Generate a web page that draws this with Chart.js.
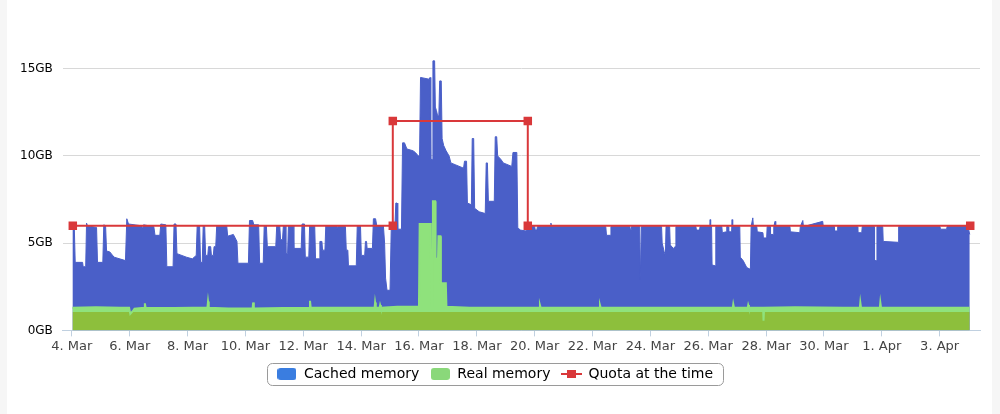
<!DOCTYPE html>
<html>
<head>
<meta charset="utf-8">
<title>Memory usage</title>
<script src="https://cdn.jsdelivr.net/npm/chart.js@4.4.1/dist/chart.umd.min.js"></script>
<style>
  html, body { margin: 0; padding: 0; background: #fff; }
  #wrap { width: 1000px; height: 414px; position: relative; }
</style>
</head>
<body>
<div id="wrap"><canvas id="memoryChart"></canvas></div>
<script>
// x = hours since 4. Mar 00:00, y = GB
const cachedMemory = [
  [0.5, 6.0], [2.0, 6.0], [2.8, 3.9], [8.9, 3.9], [9.4, 3.65], [11.5, 3.65], [12.2, 6.15], [13.0, 6.0],
  [20.5, 5.9], [21.3, 3.9], [25.7, 3.9], [26.5, 6.05], [28.0, 6.0], [28.8, 4.55], [31.5, 4.5], [35.0, 4.2],
  [44.5, 4.0], [45.6, 6.4], [47.0, 6.1], [57.5, 6.0], [58.0, 5.85], [59.0, 5.9], [59.5, 6.05], [68.0, 5.95],
  [69.0, 5.45], [73.0, 5.45], [73.8, 6.1], [78.0, 6.05], [78.8, 3.65], [84.0, 3.65], [84.8, 6.1], [86.4, 6.1],
  [87.2, 4.4], [95.0, 4.2], [100.0, 4.1], [103.2, 4.3], [104.0, 6.0], [106.0, 6.0], [106.8, 3.9], [108.2, 3.9],
  [109.0, 6.0], [110.2, 6.0], [111.0, 4.3], [112.8, 4.3], [113.4, 4.8], [115.2, 4.8], [115.8, 4.3], [117.4, 4.3],
  [118.0, 4.8], [119.4, 4.8], [120.2, 6.0], [128.5, 6.0], [129.3, 5.4], [134.0, 5.5], [137.0, 5.1], [137.8, 3.85],
  [146.5, 3.85], [147.4, 6.3], [150.0, 6.3], [151.0, 6.05], [155.0, 6.05], [155.8, 3.85], [158.8, 3.85], [159.6, 6.0],
  [161.4, 6.0], [162.2, 4.8], [169.2, 4.8], [170.0, 6.0], [172.5, 6.0], [173.2, 5.2], [174.8, 5.2], [175.5, 6.0],
  [177.0, 6.0], [177.6, 4.4], [179.0, 4.4], [179.7, 6.0], [183.5, 6.0], [184.2, 4.7], [190.3, 4.7], [191.0, 6.1],
  [193.0, 6.1], [193.7, 4.2], [196.6, 4.2], [197.3, 6.0], [201.5, 6.0], [202.2, 4.1], [205.2, 4.1], [205.8, 5.1],
  [207.5, 5.1], [208.0, 4.6], [210.0, 4.6], [210.7, 6.0], [219.5, 6.0], [220.0, 5.8], [221.0, 5.95], [227.0, 5.95],
  [227.7, 4.6], [229.0, 4.6], [229.5, 3.7], [236.0, 3.7], [236.8, 6.0], [239.5, 6.0], [240.2, 4.3], [243.0, 4.3],
  [243.6, 5.1], [244.5, 5.1], [245.0, 4.7], [249.4, 4.7], [250.2, 6.4], [252.0, 6.4], [253.0, 6.0], [258.5, 6.0],
  [259.5, 5.0], [260.3, 3.0], [261.5, 2.3], [264.0, 2.3], [265.0, 5.8], [268.0, 5.8], [268.8, 7.3], [269.8, 7.3],
  [270.4, 5.8], [273.5, 5.8], [274.4, 10.75], [276.0, 10.75], [278.0, 10.4], [283.0, 10.3], [285.0, 10.2], [287.5, 10.0],
  [288.5, 10.0], [289.3, 14.5], [296.5, 14.4], [297.2, 14.5], [297.8, 9.8], [299.0, 9.8], [299.6, 15.45], [301.0, 15.45],
  [301.6, 12.8], [302.5, 12.6], [303.5, 12.3], [304.5, 12.3], [305.2, 14.3], [306.5, 14.3], [307.2, 11.0], [308.5, 10.6],
  [310.5, 10.3], [313.0, 10.0], [314.5, 9.6], [318.0, 9.5], [325.0, 9.3], [325.8, 9.7], [327.5, 9.7], [328.2, 7.3],
  [331.5, 7.2], [332.2, 11.0], [333.4, 11.0], [334.2, 7.0], [338.0, 6.8], [343.0, 6.7], [343.8, 9.6], [344.8, 9.6],
  [345.6, 7.4], [350.5, 7.4], [351.3, 11.1], [352.5, 11.1], [353.3, 10.0], [356.0, 9.8], [358.0, 9.6], [365.0, 9.4],
  [366.0, 10.2], [369.2, 10.2], [370.0, 5.9], [372.0, 5.75], [377.0, 5.7], [378.5, 5.95], [384.0, 5.95], [384.5, 5.75],
  [385.8, 5.75], [386.3, 5.95], [397.0, 6.0], [397.5, 6.15], [398.0, 5.95], [443.0, 5.95], [443.6, 5.45], [446.8, 5.45],
  [447.3, 5.95], [463.0, 5.95], [463.3, 5.8], [464.0, 5.8], [464.3, 5.95], [471.2, 5.95], [471.6, 2.9], [472.2, 2.9],
  [472.6, 5.95], [489.3, 5.95], [489.8, 5.0], [491.5, 4.5], [492.5, 4.3], [493.0, 5.95], [496.0, 5.95], [496.5, 4.9],
  [499.0, 4.7], [500.5, 4.8], [501.2, 5.95], [517.8, 5.95], [518.2, 5.75], [520.8, 5.75], [521.2, 5.95], [529.3, 5.95],
  [529.6, 6.35], [530.0, 5.95], [530.8, 5.95], [531.2, 3.75], [533.8, 3.7], [534.3, 5.95], [539.3, 5.95], [539.7, 5.6],
  [543.0, 5.65], [543.4, 5.95], [544.5, 5.95], [545.0, 5.65], [547.4, 5.65], [547.8, 6.35], [548.3, 5.95], [554.2, 5.95],
  [554.6, 4.2], [557.0, 4.0], [560.0, 3.6], [563.0, 3.5], [563.6, 5.95], [565.0, 6.45], [565.5, 5.95], [568.3, 5.95],
  [568.7, 5.65], [573.4, 5.6], [573.8, 5.3], [576.5, 5.3], [576.9, 5.95], [579.3, 5.95], [579.7, 5.5], [582.0, 5.5],
  [582.4, 5.95], [583.5, 6.25], [584.0, 5.95], [595.8, 5.95], [596.2, 5.65], [604.0, 5.6], [604.4, 5.95], [606.5, 6.3],
  [607.0, 5.95], [623.0, 6.25], [623.5, 5.95], [632.4, 5.95], [632.8, 5.7], [635.0, 5.7], [635.4, 5.95], [651.7, 5.95],
  [652.1, 5.6], [655.4, 5.6], [655.8, 5.95], [665.6, 5.95], [666.0, 4.0], [667.6, 4.0], [668.0, 5.95], [672.8, 5.95],
  [673.2, 5.1], [685.6, 5.05], [686.0, 5.95], [720.3, 5.95], [720.7, 5.8], [725.8, 5.8], [726.2, 5.95], [743.5, 5.95],
  [745.0, 5.5]
];

const realMemory = [
  [0.5, 1.3], [20.0, 1.32], [40.0, 1.3], [47.5, 1.3], [48.5, 0.95], [50.5, 1.1], [52.0, 1.25], [60.0, 1.3],
  [60.6, 1.55], [61.2, 1.3], [85.0, 1.28], [100.0, 1.3], [112.5, 1.3], [113.0, 1.65], [113.6, 1.3], [130.0, 1.25],
  [150.0, 1.25], [150.4, 1.6], [151.0, 1.25], [175.0, 1.28], [197.2, 1.3], [197.6, 1.7], [198.2, 1.3], [225.0, 1.3],
  [240.0, 1.3], [251.2, 1.3], [251.6, 1.6], [252.2, 1.3], [255.4, 1.3], [255.8, 1.45], [256.4, 1.3], [270.0, 1.35],
  [288.0, 1.35], [288.6, 6.1], [297.8, 6.1], [298.2, 1.4], [299.2, 1.4], [299.6, 7.4], [301.4, 7.4], [301.8, 4.1],
  [303.8, 4.1], [304.2, 5.4], [305.8, 5.4], [306.2, 2.7], [310.3, 2.7], [310.8, 1.35], [330.0, 1.3], [360.0, 1.3],
  [388.0, 1.3], [388.4, 1.45], [389.0, 1.3], [420.0, 1.3], [437.8, 1.3], [438.2, 1.45], [438.8, 1.3], [480.0, 1.3],
  [520.0, 1.3], [548.4, 1.3], [548.8, 1.5], [549.4, 1.3], [560.8, 1.3], [561.2, 1.45], [561.8, 1.3], [573.5, 1.3],
  [573.9, 0.55], [574.4, 1.3], [600.0, 1.32], [640.0, 1.3], [653.8, 1.3], [654.2, 1.6], [654.8, 1.3], [670.4, 1.3],
  [670.8, 1.6], [671.4, 1.3], [700.0, 1.3], [745.0, 1.3]
];

const quotaMemory = [[0.8, 6], [266.3, 6], [266.3, 12], [378.3, 12], [378.3, 6], [745.4, 6]];

const tickHours = [0, 48, 96, 144, 192, 240, 288, 336, 384, 432, 480, 528, 576, 624, 672, 720];
const tickLabels = ['4. Mar', '6. Mar', '8. Mar', '10. Mar', '12. Mar', '14. Mar', '16. Mar', '18. Mar',
  '20. Mar', '22. Mar', '24. Mar', '26. Mar', '28. Mar', '30. Mar', '1. Apr', '3. Apr'];
const yTicks = [0, 5, 10, 15];
const seriesNames = ['Cached memory', 'Real memory', 'Quota at the time'];

const FONT = 'DejaVu Sans';
const BLUE = '#4a5fc8';
const GREEN_LIGHT = '#8fe27c';
const GREEN_DARK = '#8dbf3c';
const RED = '#d9383a';

function toPoints(arr) {
  return arr.map(p => ({ x: p[0], y: p[1] }));
}

// small canvases used as legend symbols
function legendSwatch(color) {
  const c = document.createElement('canvas');
  c.width = 19; c.height = 12;
  const g = c.getContext('2d');
  g.fillStyle = color;
  g.beginPath();
  g.roundRect(0, 0, 19, 12, 3);
  g.fill();
  return c;
}
function legendLineMarker(color) {
  const c = document.createElement('canvas');
  c.width = 21; c.height = 10;
  const g = c.getContext('2d');
  g.fillStyle = color;
  g.fillRect(0, 4, 21, 2);
  g.fillRect(6, 1, 9, 8);
  return c;
}
const legendIcons = [legendSwatch('#3a7de0'), legendSwatch('#8ad87a'), legendLineMarker(RED)];

// real memory: olive base band, light green above it
function realFill(ctx) {
  const chart = ctx.chart;
  const area = chart.chartArea;
  if (!area) return GREEN_LIGHT;
  const y = chart.scales.y;
  const y0 = y.getPixelForValue(0);
  const yb = y.getPixelForValue(1.05);
  const grad = chart.ctx.createLinearGradient(0, y0, 0, area.top);
  const stop = (y0 - yb) / (y0 - area.top);
  grad.addColorStop(0, GREEN_DARK);
  grad.addColorStop(stop, GREEN_DARK);
  grad.addColorStop(stop, GREEN_LIGHT);
  grad.addColorStop(1, GREEN_LIGHT);
  return grad;
}

const legendFrame = {
  id: 'legendFrame',
  afterDraw(chart) {
    const boxes = chart.legend && chart.legend.legendHitBoxes;
    if (!boxes || !boxes.length) return;
    const left = Math.min(...boxes.map(b => b.left)) - 10;
    const right = Math.max(...boxes.map(b => b.left + b.width)) + 10;
    const top = boxes[0].top - 4;
    const h = boxes[0].height + 8;
    const ctx = chart.ctx;
    ctx.save();
    ctx.strokeStyle = '#9a9a9a';
    ctx.lineWidth = 1;
    ctx.beginPath();
    ctx.roundRect(Math.round(left) + 0.5, Math.round(top) + 0.5, Math.round(right - left), Math.round(h), 5);
    ctx.stroke();
    ctx.restore();
  }
};

const sideBands = {
  id: 'sideBands',
  beforeDraw(chart) {
    const ctx = chart.ctx;
    ctx.save();
    ctx.fillStyle = '#f6f6f6';
    ctx.fillRect(0, 0, 7, chart.height);
    ctx.fillRect(chart.width - 8, 0, 8, chart.height);
    ctx.restore();
  }
};

new Chart(document.getElementById('memoryChart'), {
  type: 'line',
  data: {
    datasets: [
      {
        label: seriesNames[0],
        data: toPoints(cachedMemory),
        backgroundColor: BLUE,
        borderColor: BLUE,
        borderWidth: 1,
        pointRadius: 0,
        fill: 'origin',
        order: 2
      },
      {
        label: seriesNames[1],
        data: toPoints(realMemory),
        backgroundColor: realFill,
        borderColor: GREEN_LIGHT,
        borderWidth: 2,
        pointRadius: 0,
        fill: 'origin',
        order: 1
      },
      {
        label: seriesNames[2],
        data: toPoints(quotaMemory),
        borderColor: RED,
        backgroundColor: RED,
        borderWidth: 2,
        pointStyle: 'rect',
        pointRadius: 6,
        pointBorderWidth: 0,
        fill: false,
        order: 0
      }
    ]
  },
  options: {
    responsive: true,
    maintainAspectRatio: false,
    animation: false,
    layout: { padding: { left: 10, right: 20, top: 60, bottom: 23 } },
    plugins: {
      tooltip: { enabled: false },
      legend: {
        position: 'bottom',
        labels: {
          usePointStyle: true,
          pointStyleWidth: 20,
          boxHeight: 13,
          padding: 11,
          color: '#2a3f5a',
          font: { family: FONT, size: 14 },
          generateLabels: () => seriesNames.map((name, i) => ({
            text: name,
            pointStyle: legendIcons[i],
            fillStyle: 'transparent',
            strokeStyle: 'transparent',
            lineWidth: 0,
            hidden: false,
            datasetIndex: i
          }))
        }
      }
    },
    scales: {
      x: {
        type: 'linear',
        min: -7.5,
        max: 753.5,
        afterBuildTicks: axis => { axis.ticks = tickHours.map(v => ({ value: v })); },
        ticks: {
          autoSkip: false,
          maxRotation: 0,
          padding: 2,
          color: '#444',
          font: { family: FONT, size: 13 },
          callback: (v, i) => tickLabels[i]
        },
        grid: { drawOnChartArea: false, color: '#c0d0e0', tickLength: 6 },
        border: { color: '#c0d0e0' }
      },
      y: {
        min: 0,
        max: 15.5,
        afterBuildTicks: axis => { axis.ticks = yTicks.map(v => ({ value: v })); },
        ticks: {
          padding: 10,
          color: '#000',
          font: { family: FONT, size: 12 },
          callback: v => v + 'GB'
        },
        grid: { color: '#d8d8d8', drawTicks: false },
        border: { display: false }
      }
    }
  },
  plugins: [sideBands, legendFrame]
});
</script>
</body>
</html>
